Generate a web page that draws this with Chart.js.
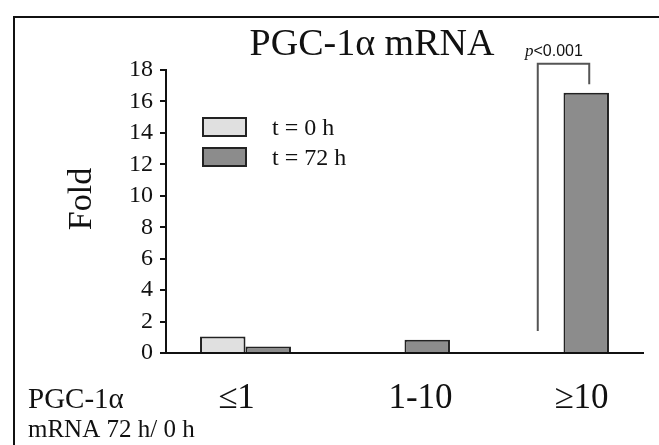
<!DOCTYPE html>
<html>
<head>
<meta charset="utf-8">
<script src="https://cdn.jsdelivr.net/npm/chart.js"></script>
<style>
  html, body { margin: 0; padding: 0; background: #fff; }
</style>
</head>
<body>
<canvas id="myChart" width="659" height="445"></canvas>
<script>
// Datos
var categorias = ['≤1', '1-10', '≥10'];
var serieT0 = [1.05, null, null];
var serieT72 = [0.42, 0.85, 16.55];
var etiquetasSeries = ['t = 0 h', 't = 72 h'];
var ticksY = [0, 2, 4, 6, 8, 10, 12, 14, 16, 18];

var SERIF = "'Liberation Serif', 'Times New Roman', serif";
var colorClaro = '#e0e0e0';
var colorOscuro = '#8c8c8c';
var desplazamientoEtiquetas = [-9, 16, 18];

// Dibuja marco, titulo, leyenda, etiquetas y el corchete de significancia
var decoraciones = {
  id: 'decoraciones',
  beforeDraw: function (chart) {
    var ctx = chart.ctx;
    ctx.save();
    ctx.fillStyle = '#fff';
    ctx.fillRect(0, 0, chart.width, chart.height);
    ctx.strokeStyle = '#111';
    ctx.lineWidth = 2;
    ctx.strokeRect(14, 17, 800, 600);
    ctx.restore();
  },
  afterDraw: function (chart) {
    var ctx = chart.ctx;
    var x = chart.scales.x;
    var y = chart.scales.y;
    ctx.save();
    ctx.fillStyle = '#111';
    ctx.textBaseline = 'alphabetic';

    // titulo
    ctx.font = '38px ' + SERIF;
    ctx.textAlign = 'center';
    ctx.fillText('PGC-1α mRNA', 372, 55);

    // titulo del eje y
    ctx.save();
    ctx.translate(91, 199);
    ctx.rotate(-Math.PI / 2);
    ctx.font = '34px ' + SERIF;
    ctx.fillText('Fold', 0, 0);
    ctx.restore();

    // leyenda
    var cajas = [[118, colorClaro], [148, colorOscuro]];
    ctx.lineWidth = 2;
    ctx.strokeStyle = '#222';
    ctx.font = '24px ' + SERIF;
    ctx.textAlign = 'left';
    cajas.forEach(function (c, i) {
      ctx.fillStyle = c[1];
      ctx.fillRect(203, c[0], 43, 18);
      ctx.strokeRect(203, c[0], 43, 18);
      ctx.fillStyle = '#111';
      ctx.fillText(etiquetasSeries[i], 272, c[0] + 17);
    });

    // etiquetas de categorias
    ctx.font = '35px ' + SERIF;
    ctx.textAlign = 'center';
    categorias.forEach(function (cat, i) {
      ctx.fillText(cat, x.getPixelForValue(i) + desplazamientoEtiquetas[i], 408);
    });

    ctx.textAlign = 'left';
    ctx.font = '29px ' + SERIF;
    ctx.fillText('PGC-1α', 28, 408);
    ctx.font = '25px ' + SERIF;
    ctx.fillText('mRNA 72 h/ 0 h', 28, 437);

    // corchete p<0.001
    var m0 = chart.getDatasetMeta(0).data[2];
    var m1 = chart.getDatasetMeta(1).data[2];
    var xl = m0.x - 3, xr = m1.x + 3;
    var yTop = y.getPixelForValue(18.4);
    ctx.strokeStyle = '#555';
    ctx.lineWidth = 2;
    ctx.beginPath();
    ctx.moveTo(xl, y.getPixelForValue(1.4));
    ctx.lineTo(xl, yTop);
    ctx.lineTo(xr, yTop);
    ctx.lineTo(xr, y.getPixelForValue(17.1));
    ctx.stroke();

    ctx.fillStyle = '#111';
    ctx.font = 'italic 17px ' + SERIF;
    ctx.fillText('p', 525, 56);
    var wp = ctx.measureText('p').width;
    ctx.font = "16px 'Liberation Sans', Arial, sans-serif";
    ctx.fillText('<0.001', 525 + wp, 56);
    ctx.restore();
  }
};

var ctx = document.getElementById('myChart').getContext('2d');
var myChart = new Chart(ctx, {
  type: 'bar',
  data: {
    labels: categorias,
    datasets: [{
      label: etiquetasSeries[0],
      data: serieT0,
      backgroundColor: colorClaro,
      borderColor: '#222',
      borderWidth: 2
    },
    {
      label: etiquetasSeries[1],
      data: serieT72,
      backgroundColor: colorOscuro,
      borderColor: '#222',
      borderWidth: 2
    }]
  },
  options: {
    responsive: false,
    animation: false,
    layout: { padding: { top: 70, right: 16, left: 0, bottom: 0 } },
    plugins: {
      legend: { display: false },
      tooltip: { enabled: false },
      title: { display: false }
    },
    datasets: {
      bar: { categoryPercentage: 0.572, barPercentage: 1 }
    },
    scales: {
      x: {
        grid: { display: false },
        border: { display: true, color: '#111', width: 2 },
        ticks: { display: false },
        afterFit: function (scale) { scale.height = 92; }
      },
      y: {
        min: 0,
        max: 18,
        afterBuildTicks: function (scale) {
          scale.ticks = ticksY.map(function (v) { return { value: v }; });
        },
        grid: { drawOnChartArea: false, drawTicks: true, tickLength: 6, color: '#111', lineWidth: 2 },
        border: { display: true, color: '#111', width: 2 },
        ticks: {
          autoSkip: false,
          padding: 7,
          color: '#111',
          font: { family: SERIF, size: 24 }
        },
        afterFit: function (scale) { scale.width = 166; }
      }
    }
  },
  plugins: [decoraciones]
});
</script>
</body>
</html>
